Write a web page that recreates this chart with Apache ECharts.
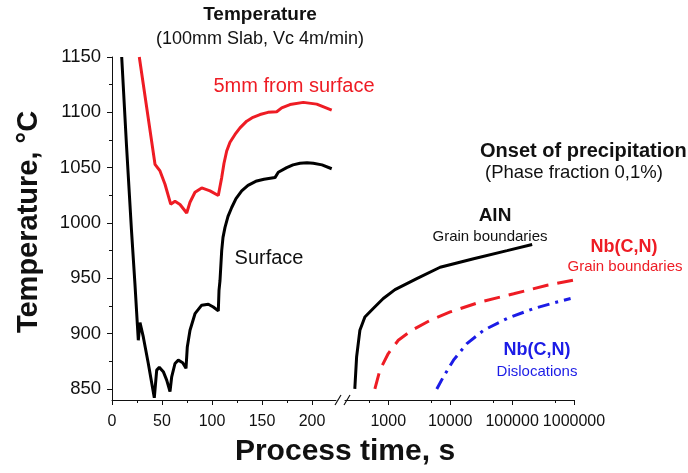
<!DOCTYPE html>
<html>
<head>
<meta charset="utf-8">
<script src="https://cdn.jsdelivr.net/npm/echarts@6/dist/echarts.min.js"></script>
<style>
  html, body { margin: 0; padding: 0; background: #fff; }
  #chart { width: 688px; height: 473px; }
</style>
</head>
<body>
<div id="chart"></div>
<script>
// left panel: temperature vs process time (linear, s)
const surfaceTime = [9.7, 14.5, 19.5, 23, 26.3, 28, 31.3, 36.3, 42.3, 44.7, 47.3, 51.3, 54.7, 58,
  59.7, 63, 66.3, 70.7, 74, 75.3, 78, 83, 89.7, 96.3, 101.3, 106.3, 107, 108, 109.7, 111, 113, 116,
  119.7, 124, 129.7, 136, 144.7, 152, 163, 166.3, 174.7, 181, 188, 195, 201.3, 210, 219.7]
const surfaceTemp = [1150, 1070, 993, 944, 894, 910, 897, 873, 842, 867, 869.5, 865.6, 858, 847.6,
  861, 873, 876, 873.7, 868.6, 888, 903, 918, 925.7, 926.6, 924, 920.5, 939, 948, 975, 987, 996, 1006,
  1014, 1022, 1029, 1034, 1038, 1039.5, 1041, 1045.8, 1050, 1052.5, 1054, 1054.5, 1054, 1052.5, 1049]

const subsurfTime = [27.3, 43, 48, 53, 58.7, 63, 68, 74.7, 78, 83, 89.7, 98, 106.3, 108, 109.7, 112,
  114.7, 118, 123, 128, 134.7, 141, 148, 156, 164.7, 169.7, 178, 191.3, 204.7, 219.7]
const subsurfTemp = [1150, 1053, 1047, 1035, 1017, 1019.6, 1016.7, 1009, 1018.7, 1027.8, 1031.7, 1029,
  1024.8, 1033, 1041, 1054, 1065, 1073, 1080, 1086, 1092, 1095.5, 1098, 1100, 1100.5, 1104, 1107, 1109,
  1107.4, 1102]

// right panel: onset of precipitation (log time, s)
const alnTime = [288, 308, 348, 419, 571, 830, 1284, 2884, 6880, 23900, 83000, 211000]
const alnTemp = [850, 879, 903, 915, 922.7, 931.7, 939.8, 949.7, 960, 967.7, 975, 980.6]

const nbGbTime = [608, 733, 1000, 1452, 2393, 4745, 10000, 30600, 106000, 369000, 1000000]
const nbGbTemp = [850, 867, 882, 894, 903, 912, 919.6, 928.6, 936, 943.7, 948.5]

const nbDisTime = [6080, 7780, 11300, 18600, 34600, 83000, 224000, 535000, 881000]
const nbDisTemp = [850, 861, 876, 891, 903, 913.7, 922.7, 928.6, 931.7]

// tick labels
const tempTicks = [850, 900, 950, 1000, 1050, 1100, 1150]
const tempMinorTicks = [875, 925, 975, 1025, 1075, 1125]
const linTicks = [0, 50, 100, 150, 200]
const linMinorTicks = [25, 75, 125, 175]
const logTicks = [1000, 10000, 100000, 1000000]
const logMinorTicks = [500, 5000, 50000, 500000]

const font = '"Liberation Sans", Arial, sans-serif'
const ink = '#111'
const red = '#ee1c24'
const blue = '#1c1ce6'

const zip = (xs, ys) => xs.map((x, i) => [x, ys[i]])
const plain = (v) => String(Math.round(v))

const axisLine = { show: true, lineStyle: { color: ink, width: 1 } }
const yRange = { min: 840, max: 1150 }

const chart = echarts.init(document.getElementById('chart'))

const label = (text, x, y, size, color, bold, align, rotation) => ({
  type: 'text',
  x, y,
  rotation: rotation || 0,
  style: {
    text,
    fill: color,
    font: (bold ? 'bold ' : '') + size + 'px ' + font,
    align: align || 'center',
    verticalAlign: 'middle',
  },
})

chart.setOption({
  animation: false,
  backgroundColor: '#fff',
  textStyle: { fontFamily: font },
  title: {
    text: 'Temperature',
    subtext: '(100mm Slab, Vc 4m/min)',
    left: 255,
    top: 0,
    textAlign: 'center',
    itemGap: 6,
    textStyle: { fontSize: 19, fontWeight: 'bold', color: ink, fontFamily: font },
    subtextStyle: { fontSize: 18, color: ink, fontFamily: font },
  },
  grid: [
    { left: 112, top: 57, width: 224, height: 343 },
    { left: 345, top: 57, width: 229, height: 343 },
  ],
  xAxis: [
    {
      gridIndex: 0, type: 'value', min: 0, max: 224, position: 'bottom',
      axisLine,
      splitLine: { show: false },
      axisTick: { customValues: linTicks, length: 5, lineStyle: { color: ink } },
      axisLabel: { customValues: linTicks, fontSize: 16, color: ink, margin: 14, formatter: plain },
    },
    {
      gridIndex: 0, type: 'value', min: 0, max: 224, position: 'bottom',
      axisLine: { show: false },
      splitLine: { show: false },
      axisTick: { customValues: linMinorTicks, length: 3, lineStyle: { color: ink } },
      axisLabel: { show: false },
    },
    {
      gridIndex: 1, type: 'log', logBase: 10, min: 200, max: 1000000, position: 'bottom',
      axisLine,
      splitLine: { show: false },
      axisTick: { customValues: logTicks, length: 5, lineStyle: { color: ink } },
      axisLabel: { customValues: logTicks, fontSize: 16, color: ink, margin: 14, formatter: plain },
    },
    {
      gridIndex: 1, type: 'log', logBase: 10, min: 200, max: 1000000, position: 'bottom',
      axisLine: { show: false },
      splitLine: { show: false },
      axisTick: { customValues: logMinorTicks, length: 3, lineStyle: { color: ink } },
      axisLabel: { show: false },
    },
  ],
  yAxis: [
    {
      gridIndex: 0, type: 'value', ...yRange, position: 'left',
      axisLine,
      splitLine: { show: false },
      axisTick: { customValues: tempTicks, length: 5, lineStyle: { color: ink } },
      axisLabel: { customValues: tempTicks, fontSize: 18.5, color: ink, margin: 11, formatter: plain },
    },
    {
      gridIndex: 0, type: 'value', ...yRange, position: 'left',
      axisLine: { show: false },
      splitLine: { show: false },
      axisTick: { customValues: tempMinorTicks, length: 3, lineStyle: { color: ink } },
      axisLabel: { show: false },
    },
    {
      gridIndex: 1, type: 'value', ...yRange, show: false,
    },
  ],
  series: [
    {
      name: 'Surface', type: 'line', xAxisIndex: 0, yAxisIndex: 0,
      data: zip(surfaceTime, surfaceTemp), showSymbol: false, symbol: 'none',
      lineStyle: { color: '#000', width: 3 },
    },
    {
      name: '5mm from surface', type: 'line', xAxisIndex: 0, yAxisIndex: 0,
      data: zip(subsurfTime, subsurfTemp), showSymbol: false, symbol: 'none',
      lineStyle: { color: red, width: 3 },
    },
    {
      name: 'AlN', type: 'line', xAxisIndex: 2, yAxisIndex: 2,
      data: zip(alnTime, alnTemp), showSymbol: false, symbol: 'none',
      lineStyle: { color: '#000', width: 3 },
    },
    {
      name: 'Nb(C,N) grain boundaries', type: 'line', xAxisIndex: 2, yAxisIndex: 2,
      data: zip(nbGbTime, nbGbTemp), showSymbol: false, symbol: 'none',
      lineStyle: { color: red, width: 3, type: [16, 9] },
    },
    {
      name: 'Nb(C,N) dislocations', type: 'line', xAxisIndex: 2, yAxisIndex: 2,
      data: zip(nbDisTime, nbDisTemp), showSymbol: false, symbol: 'none',
      lineStyle: { color: blue, width: 3, type: [12, 6, 3, 6] },
    },
  ],
  graphic: [
    // axis break marks
    { type: 'line', shape: { x1: 335, y1: 405, x2: 341, y2: 395 }, style: { stroke: ink, lineWidth: 1.2 } },
    { type: 'line', shape: { x1: 344, y1: 405, x2: 350, y2: 395 }, style: { stroke: ink, lineWidth: 1.2 } },
    label('Temperature, °C', 29, 222, 29, ink, true, 'center', Math.PI / 2),
    label('5mm from surface', 294, 86, 20, red, false),
    label('Surface', 269, 258, 20, ink, false),
    label('Onset of precipitation', 480, 151, 20, ink, true, 'left'),
    label('(Phase fraction 0,1%)', 485, 173, 18.5, ink, false, 'left'),
    label('AlN', 495, 216, 19, ink, true),
    label('Grain boundaries', 490, 237, 15, ink, false),
    label('Nb(C,N)', 624, 247, 18, red, true),
    label('Grain boundaries', 625, 267, 15, red, false),
    label('Nb(C,N)', 537, 350, 18, blue, true),
    label('Dislocations', 537, 372, 15, blue, false),
    label('Process time, s', 345, 452, 30, ink, true),
  ],
})
</script>
</body>
</html>
